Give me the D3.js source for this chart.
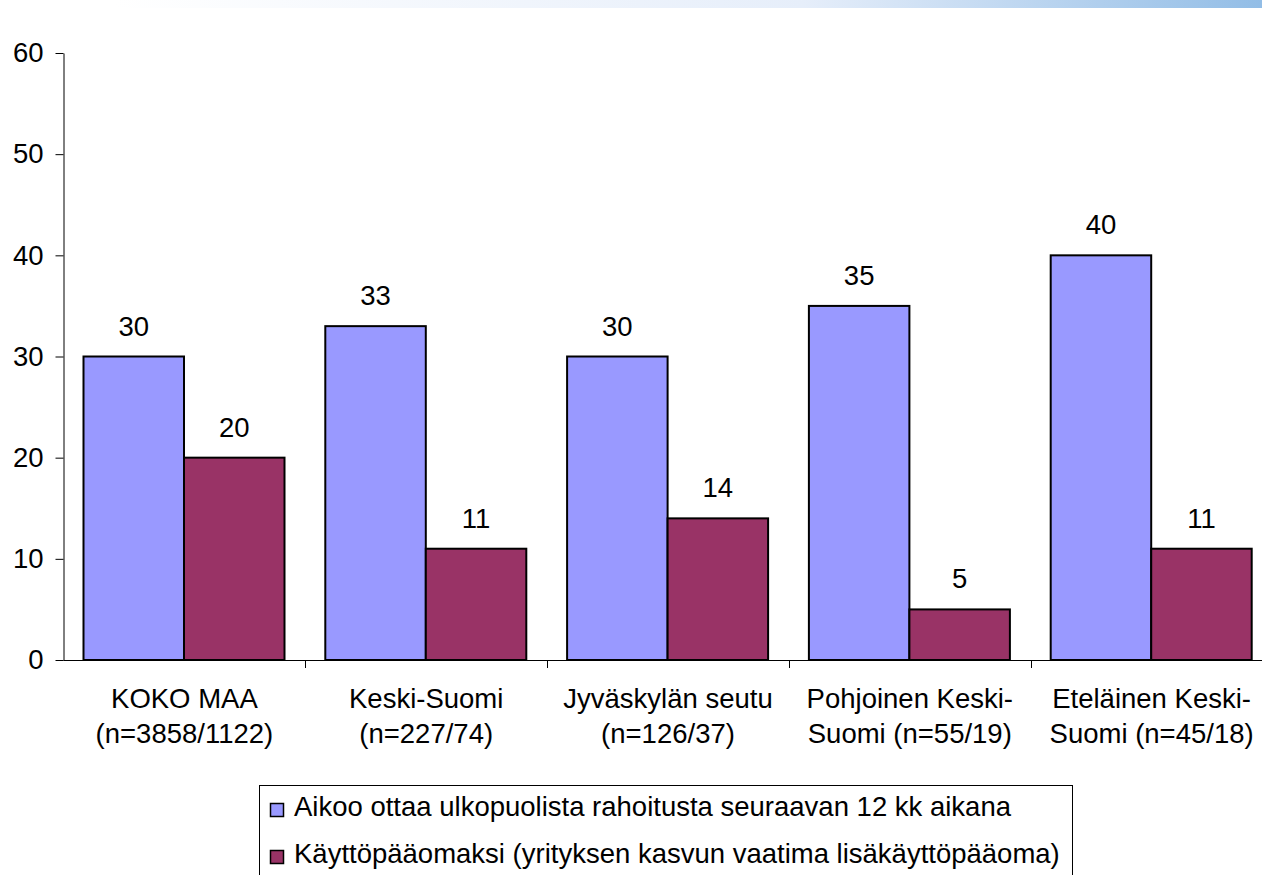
<!DOCTYPE html>
<html>
<head>
<meta charset="utf-8">
<script src="https://cdn.jsdelivr.net/npm/d3@7"></script>
<style>
  html, body { margin: 0; padding: 0; background: #fff; }
  svg { display: block; }
  text { font-family: "Liberation Sans", Arial, sans-serif; fill: #000; }
</style>
</head>
<body>
<svg id="chart" width="1262" height="875"></svg>
<script>
const categories = [
  ["KOKO MAA", "(n=3858/1122)"],
  ["Keski-Suomi", "(n=227/74)"],
  ["Jyväskylän seutu", "(n=126/37)"],
  ["Pohjoinen Keski-", "Suomi (n=55/19)"],
  ["Eteläinen Keski-", "Suomi (n=45/18)"]
];
const seriesNames = [
  "Aikoo ottaa ulkopuolista rahoitusta seuraavan 12 kk aikana",
  "Käyttöpääomaksi (yrityksen kasvun vaatima lisäkäyttöpääoma)"
];
const seriesA = [30, 33, 30, 35, 40];
const seriesB = [20, 11, 14, 5, 11];
const yTicks = [0, 10, 20, 30, 40, 50, 60];
const colors = ["#9999ff", "#993366"];

const svg = d3.select("#chart");
const W = 1262, H = 875;
const fontSize = 27.5;
const fontCss = '"Liberation Sans", Arial, sans-serif';

// top decorative gradient band
const defs = svg.append("defs");
const grad = defs.append("linearGradient").attr("id", "topband").attr("x1", "0").attr("x2", "1");
grad.append("stop").attr("offset", "0").attr("stop-color", "#ffffff");
grad.append("stop").attr("offset", "0.6").attr("stop-color", "#e6eefa");
grad.append("stop").attr("offset", "1").attr("stop-color", "#92bde6");
svg.append("rect").attr("x", 115).attr("y", 0).attr("width", W - 115).attr("height", 8).attr("fill", "url(#topband)");

const x0 = 63.5, xEnd = 63.5 + 241.8 * 5;
const y = d3.scaleLinear().domain([0, 60]).range([660, 53]);
const x = d3.scaleBand().domain(d3.range(categories.length)).range([x0, xEnd]).paddingInner(0).paddingOuter(0);
const inner = d3.scaleBand().domain([0, 1]).range([20, 221]).padding(0);

const data = categories.map((c, i) => ({ i, vals: [seriesA[i], seriesB[i]] }));

// bars
const g = svg.append("g");
const groups = g.selectAll("g.grp").data(data).join("g").attr("class", "grp")
  .attr("transform", d => `translate(${x(d.i)},0)`);
groups.selectAll("rect").data(d => d.vals.map((v, s) => ({ v, s }))).join("rect")
  .attr("x", d => inner(d.s))
  .attr("width", inner.bandwidth())
  .attr("y", d => y(d.v))
  .attr("height", d => y(0) - y(d.v))
  .attr("fill", d => colors[d.s])
  .attr("stroke", "#000")
  .attr("stroke-width", 2);
groups.selectAll("text.val").data(d => d.vals.map((v, s) => ({ v, s }))).join("text")
  .attr("class", "val")
  .attr("x", d => inner(d.s) + inner.bandwidth() / 2)
  .attr("y", d => y(d.v) - 21)
  .attr("text-anchor", "middle")
  .style("font-size", fontSize + "px")
  .text(d => d.v);

// y axis
const yAxis = d3.axisLeft(y).tickValues(yTicks).tickSize(8).tickPadding(12).tickSizeOuter(0);
const ya = svg.append("g").attr("transform", `translate(${x0},0)`).call(yAxis);
ya.select(".domain").attr("stroke", "#000");
ya.selectAll(".tick line").attr("stroke", "#000");
ya.selectAll(".tick text").style("font-size", fontSize + "px").style("font-family", fontCss).attr("fill", "#000");

// x axis
const xa = svg.append("g").attr("transform", `translate(0,${y(0)})`);
xa.append("line").attr("x1", x0).attr("x2", W).attr("y1", 0.5).attr("y2", 0.5).attr("stroke", "#000");
const seps = d3.range(1, categories.length).map(i => x(i));
xa.selectAll("line.sep").data(seps).join("line").attr("class", "sep")
  .attr("x1", d => Math.round(d) + 0.5).attr("x2", d => Math.round(d) + 0.5)
  .attr("y1", 0).attr("y2", 8).attr("stroke", "#000");
const cl = xa.selectAll("text.cat").data(categories).join("text").attr("class", "cat")
  .attr("x", (d, i) => x(i) + x.bandwidth() / 2)
  .attr("text-anchor", "middle")
  .style("font-size", fontSize + "px");
cl.append("tspan").attr("x", (d, i) => x(i) + x.bandwidth() / 2).attr("y", 48).text(d => d[0]);
cl.append("tspan").attr("x", (d, i) => x(i) + x.bandwidth() / 2).attr("y", 83).text(d => d[1]);

// legend
const lg = svg.append("g");
lg.append("rect").attr("x", 259.5).attr("y", 785.5).attr("width", 813).attr("height", 95)
  .attr("fill", "#fff").attr("stroke", "#000").attr("stroke-width", 1);
const items = lg.selectAll("g.item").data(seriesNames).join("g").attr("class", "item")
  .attr("transform", (d, i) => `translate(0,${816 + i * 47})`);
items.append("rect").attr("x", 270.5).attr("y", -12.5).attr("width", 13).attr("height", 13)
  .attr("fill", (d, i) => colors[i]).attr("stroke", "#000").attr("stroke-width", 1.5);
items.append("text").attr("x", 294).attr("y", 0).style("font-size", fontSize + "px").text(d => d);
</script>
</body>
</html>
